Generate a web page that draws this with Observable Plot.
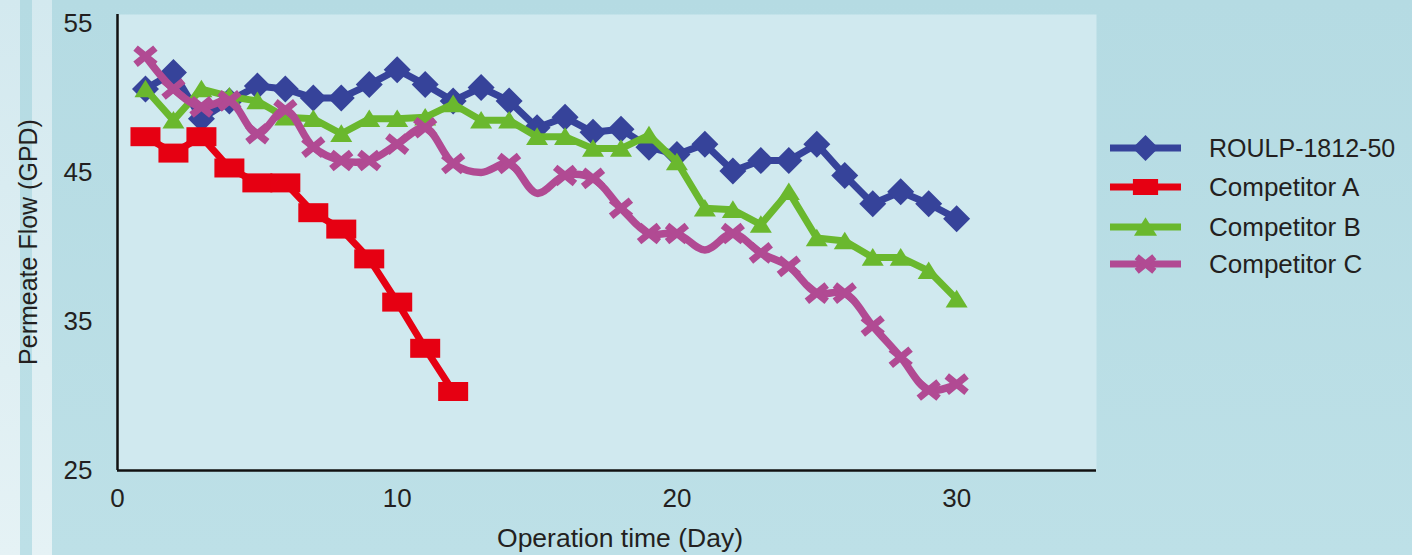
<!DOCTYPE html>
<html>
<head>
<meta charset="utf-8">
<script src="https://cdn.jsdelivr.net/npm/d3@7"></script>
<script src="https://cdn.jsdelivr.net/npm/@observablehq/plot@0.6"></script>
<style>
  html, body { margin: 0; padding: 0; }
  body {
    width: 1412px; height: 555px; position: relative; overflow: hidden;
    background: linear-gradient(#b5dbe3, #bde0e7);
    font-family: "Liberation Sans", Arial, sans-serif; color: #231f20;
  }
  .strip { position: absolute; top: 0; height: 555px; background: linear-gradient(#d3e9ef, #e5f2f5); }
  #chart { position: absolute; left: 0; top: 0; }
  .ylab { position: absolute; left: 28px; top: 242px; transform: translate(-50%, -50%) rotate(-90deg);
          font-size: 25px; white-space: nowrap; }
  .xlab { position: absolute; left: 620px; top: 538px; transform: translate(-50%, -50%);
          font-size: 26.5px; white-space: nowrap; }
  .legrow { position: absolute; left: 1110px; height: 30px; display: flex; align-items: center; white-space: nowrap; }
  .legrow svg { display: block; margin-right: 27px; }
</style>
</head>
<body>
<div class="strip" style="left:0;width:20px"></div>
<div class="strip" style="left:32px;width:20px"></div>
<div id="chart"></div>
<div class="ylab">Permeate Flow (GPD)</div>
<div class="xlab">Operation time (Day)</div>
<div id="legend"></div>
<script>
// ---- data ----
const xTicks = [0, 10, 20, 30];
const yTicks = [25, 35, 45, 55];
const days = [1, 2, 3, 4, 5, 6, 7, 8, 9, 10, 11, 12, 13, 14, 15, 16, 17, 18, 19, 20, 21, 22, 23, 24, 25, 26, 27, 28, 29, 30];
const seriesNames = ["ROULP-1812-50", "Competitor A", "Competitor B", "Competitor C"];
const roulp = [50.6, 51.7, 48.6, 49.8, 50.8, 50.6, 50.0, 50.0, 50.9, 51.9, 50.9, 49.8, 50.7, 49.8, 48.0, 48.7, 47.7, 47.9, 46.7, 46.2, 46.9, 45.1, 45.8, 45.8, 46.9, 44.8, 42.9, 43.7, 42.9, 41.9];
const compA = [47.4, 46.3, 47.4, 45.3, 44.3, 44.3, 42.3, 41.2, 39.2, 36.3, 33.2, 30.3];
const compB = [50.6, 48.5, 50.6, 50.1, 49.8, 48.7, 48.6, 47.6, 48.6, 48.6, 48.7, 49.6, 48.5, 48.5, 47.4, 47.4, 46.6, 46.6, 47.5, 45.7, 42.6, 42.5, 41.5, 43.7, 40.6, 40.4, 39.3, 39.3, 38.4, 36.5];
const compC = [52.8, 50.6, 49.4, 49.8, 47.6, 49.2, 46.7, 45.8, 45.8, 46.9, 48.0, 45.6, 45.0, 45.6, 43.6, 44.8, 44.6, 42.6, 40.9, 40.9, 39.8, 40.9, 39.6, 38.7, 36.9, 36.9, 34.7, 32.6, 30.4, 30.8];
const compCUnmarkedDays = [13, 15, 21];

// ---- styles ----
const colors = ["#36439a", "#e60012", "#6ab82e", "#b14a93"];
const panelFill = "#d0e9ef";

const diamondSym = {draw(c, size) { const r = Math.sqrt(size / Math.PI);
  c.moveTo(0, -r); c.lineTo(r, 0); c.lineTo(0, r); c.lineTo(-r, 0); c.closePath(); }};
const rectSym = {draw(c, size) { const r = Math.sqrt(size / Math.PI);
  c.rect(-1.2 * r, -0.76 * r, 2.4 * r, 1.52 * r); }};
const triSym = {draw(c, size) { const r = Math.sqrt(size / Math.PI);
  c.moveTo(0, -0.85 * r); c.lineTo(r, 0.75 * r); c.lineTo(-r, 0.75 * r); c.closePath(); }};
const xSym = {draw(c, size) { const r = Math.sqrt(size / Math.PI);
  c.moveTo(-1.1 * r, -0.9 * r); c.lineTo(1.1 * r, 0.9 * r);
  c.moveTo(1.1 * r, -0.9 * r); c.lineTo(-1.1 * r, 0.9 * r); }};

const rows = (name, vals, hidden = []) =>
  vals.map((v, i) => ({name, day: days[i], value: v, marked: !hidden.includes(days[i])}));

const dB = rows(seriesNames[0], roulp);
const dA = rows(seriesNames[1], compA);
const dG = rows(seriesNames[2], compB);
const dC = rows(seriesNames[3], compC, compCUnmarkedDays);

const lineOpts = (color, curve = "linear", w = 7) => ({x: "day", y: "value", stroke: color, strokeWidth: w,
  strokeLinejoin: "round", strokeLinecap: "round", curve});

const chart = Plot.plot({
  width: 1412, height: 555,
  marginLeft: 117, marginRight: 316, marginTop: 14, marginBottom: 85,
  x: {domain: [0, 35]},
  y: {domain: [25, 55.6]},
  style: {background: "transparent", fontFamily: "Liberation Sans, Arial, sans-serif", fontSize: "26px", color: "#231f20", overflow: "visible"},
  marks: [
    Plot.frame({fill: panelFill, stroke: "none"}),
    Plot.axisX({ticks: xTicks, tickSize: 0, tickPadding: 18, label: null, fontSize: 26}),
    Plot.axisY({ticks: yTicks, tickSize: 0, tickPadding: 25, label: null, fontSize: 26}),
    Plot.ruleX([0], {stroke: "#111", strokeWidth: 2.5}),
    Plot.ruleY([25], {stroke: "#111", strokeWidth: 2.5}),
    // ROULP
    Plot.line(dB, lineOpts(colors[0])),
    Plot.dot(dB, {x: "day", y: "value", r: 13.5, symbol: diamondSym, fill: colors[0], stroke: "none"}),
    // Competitor A
    Plot.line(dA, lineOpts(colors[1])),
    Plot.dot(dA, {x: "day", y: "value", r: 12.5, symbol: rectSym, fill: colors[1], stroke: "none"}),
    // Competitor B
    Plot.line(dG, lineOpts(colors[2])),
    Plot.dot(dG, {x: "day", y: "value", r: 11, symbol: triSym, fill: colors[2], stroke: "none"}),
    // Competitor C
    Plot.line(dC, lineOpts(colors[3], "catmull-rom", 7.5)),
    Plot.dot(dC.filter(d => d.marked), {x: "day", y: "value", r: 9, symbol: xSym, fill: "none",
      stroke: colors[3], strokeWidth: 7})
  ]
});
document.getElementById("chart").appendChild(chart);

// ---- legend ----
const legSyms = [
  {sym: diamondSym, r: 13, fill: true},
  {sym: rectSym, r: 10.5, fill: true},
  {sym: triSym, r: 11.5, fill: true},
  {sym: xSym, r: 8, fill: false}
];
const legY = [148, 187, 227, 264];
const legSizes = [25, 26, 26, 26];
const legend = document.getElementById("legend");
seriesNames.forEach((name, i) => {
  const row = document.createElement("div");
  row.className = "legrow";
  row.style.top = (legY[i] - 15) + "px";
  const s = legSyms[i];
  const path = d3.symbol(s.sym, Math.PI * s.r * s.r)();
  row.innerHTML = `<svg width="72" height="30" viewBox="0 0 72 30">
      <line x1="0" x2="71" y1="15" y2="15" stroke="${colors[i]}" stroke-width="7"/>
      <path transform="translate(35.5,15)" d="${path}" ${s.fill ? `fill="${colors[i]}"` : `fill="none" stroke="${colors[i]}" stroke-width="6.5"`}/>
    </svg><span style="font-size:${legSizes[i]}px">${name}</span>`;
  legend.appendChild(row);
});
</script>
</body>
</html>
